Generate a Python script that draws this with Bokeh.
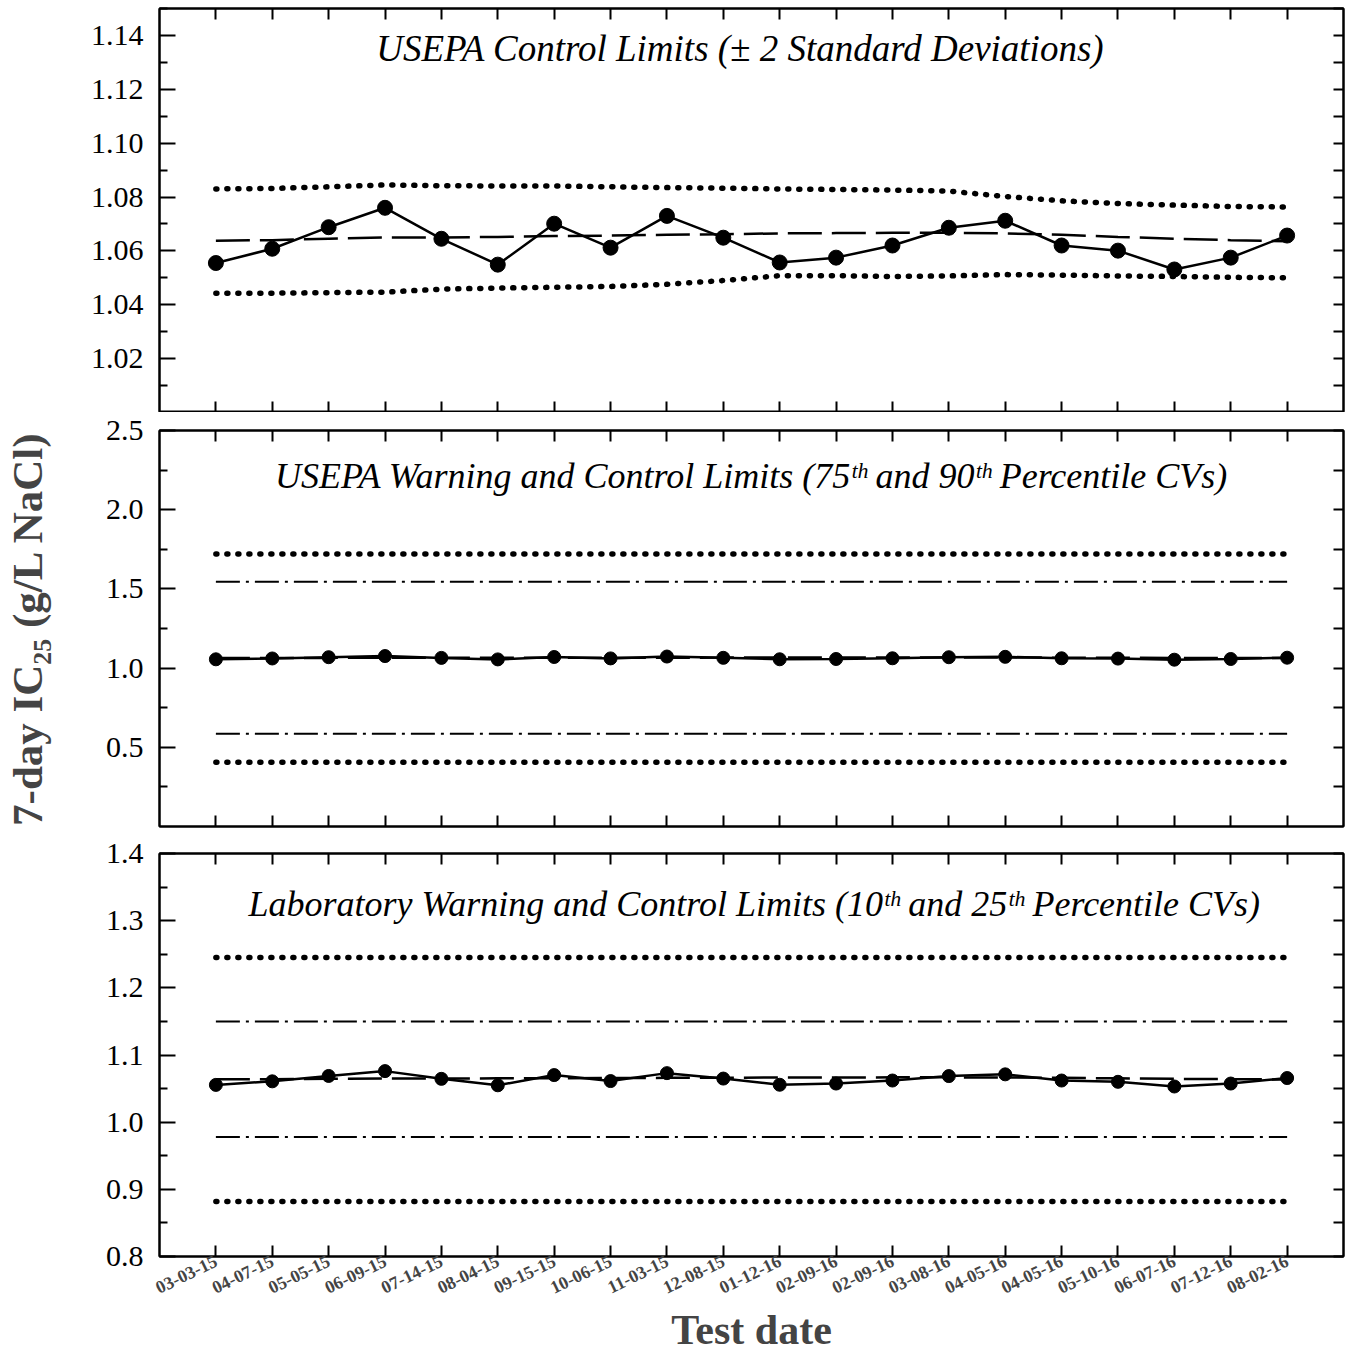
from bokeh.plotting import figure
from bokeh.models import LinearAxis, FixedTicker, Range1d, Label, ColumnDataSource, NumeralTickFormatter
from bokeh.layouts import column
from bokeh.embed import file_html
from bokeh.resources import INLINE

# ---------------- data ----------------
test_dates = ["03-03-15", "04-07-15", "05-05-15", "06-09-15", "07-14-15",
              "08-04-15", "09-15-15", "10-06-15", "11-03-15", "12-08-15",
              "01-12-16", "02-09-16", "02-09-16", "03-08-16", "04-05-16",
              "04-05-16", "05-10-16", "06-07-16", "07-12-16", "08-02-16"]
ic25 = [1.0555, 1.0608, 1.0688, 1.0760, 1.0645, 1.0549, 1.0701, 1.0612, 1.0730, 1.0649,
        1.0557, 1.0575, 1.0620, 1.0686, 1.0712, 1.0620, 1.0601, 1.0531, 1.0575, 1.0657]
running_mean = [1.0638, 1.0640, 1.0645, 1.0650, 1.0650, 1.0652, 1.0655, 1.0657, 1.0660, 1.0662,
                1.0665, 1.0666, 1.0667, 1.0667, 1.0665, 1.0660, 1.0652, 1.0645, 1.0640, 1.0636]
upper_2sd = [1.0830, 1.0832, 1.0838, 1.0845, 1.0842, 1.0841, 1.0841, 1.0838, 1.0835, 1.0833,
             1.0830, 1.0828, 1.0826, 1.0822, 1.0802, 1.0786, 1.0776, 1.0770, 1.0765, 1.0763]
lower_2sd = [1.0443, 1.0443, 1.0445, 1.0447, 1.0458, 1.0462, 1.0465, 1.0468, 1.0476, 1.0490,
             1.0508, 1.0508, 1.0505, 1.0507, 1.0512, 1.0510, 1.0507, 1.0505, 1.0502, 1.0500]

usepa_control_upper = 1.720
usepa_warning_upper = 1.545
usepa_warning_lower = 0.585
usepa_control_lower = 0.405

lab_control_upper = 1.245
lab_warning_upper = 1.150
lab_warning_lower = 0.978
lab_control_lower = 0.882

top_ticks = [1.02, 1.04, 1.06, 1.08, 1.10, 1.12, 1.14]
top_minor = [1.01, 1.03, 1.05, 1.07, 1.09, 1.11, 1.13, 1.15]
mid_ticks = [0.5, 1.0, 1.5, 2.0, 2.5]
mid_minor = [0.25, 0.75, 1.25, 1.75, 2.25]
bot_ticks = [0.8, 0.9, 1.0, 1.1, 1.2, 1.3, 1.4]
bot_minor = [0.85, 0.95, 1.05, 1.15, 1.25, 1.35]

idx = list(range(len(test_dates)))
src = ColumnDataSource(dict(x=idx, y=ic25, m=running_mean, u=upper_2sd, l=lower_2sd))

SERIF = "Liberation Serif"
FRAME_W = 1186
LEFT = 157
RIGHT = 6
W = LEFT + FRAME_W + RIGHT


def tick_only_axis(ticks, length):
    ax = LinearAxis(ticker=FixedTicker(ticks=[], minor_ticks=ticks))
    ax.major_tick_in = 0
    ax.major_tick_out = 0
    ax.minor_tick_in = length
    ax.minor_tick_out = 0
    ax.major_label_standoff = 0
    ax.axis_line_width = 2
    ax.minor_tick_line_width = 2
    return ax


def add_axes(p, yticks, yminor, fmt, show_x=False):
    # left axis with labels
    ly = LinearAxis(ticker=FixedTicker(ticks=yticks, minor_ticks=yminor),
                    formatter=NumeralTickFormatter(format=fmt))
    ly.major_tick_in = 16
    ly.major_tick_out = 0
    ly.minor_tick_in = 8
    ly.minor_tick_out = 0
    ly.major_label_standoff = 16
    ly.major_label_text_font = SERIF
    ly.major_label_text_font_size = "30px"
    ly.major_label_text_color = "black"
    ly.axis_line_width = 2
    ly.major_tick_line_width = 2
    ly.minor_tick_line_width = 2
    p.add_layout(ly, "left")
    # right axis: ticks only
    p.add_layout(tick_only_axis(yticks + yminor, 10), "right")
    # top axis: ticks only
    p.add_layout(tick_only_axis(idx, 11), "above")
    # bottom axis
    if show_x:
        bx = LinearAxis(ticker=FixedTicker(ticks=idx, minor_ticks=[]))
        bx.major_tick_in = 11
        bx.major_tick_out = 0
        bx.minor_tick_in = 0
        bx.minor_tick_out = 0
        bx.axis_line_width = 2
        bx.major_tick_line_width = 2
        bx.major_label_overrides = {i: d for i, d in zip(idx, test_dates)}
        bx.major_label_orientation = 0.45
        bx.major_label_text_font = SERIF
        bx.major_label_text_font_style = "bold"
        bx.major_label_text_font_size = "18px"
        bx.major_label_standoff = 3
        bx.axis_label = "Test date"
        bx.axis_label_text_font = SERIF
        bx.axis_label_text_font_style = "bold"
        bx.axis_label_text_font_size = "42px"
        bx.axis_label_standoff = 4
        p.add_layout(bx, "below")
    else:
        p.add_layout(tick_only_axis(idx, 11), "below")
    return ly


def make_fig(height, yr, top, bottom):
    p = figure(width=W, height=height, x_range=Range1d(-1, 20), y_range=Range1d(*yr),
               output_backend="svg", toolbar_location=None,
               x_axis_type=None, y_axis_type=None,
               min_border_left=LEFT, min_border_right=RIGHT,
               min_border_top=top, min_border_bottom=bottom)
    p.grid.visible = False
    p.outline_line_color = "black"
    p.outline_line_width = 2
    p.background_fill_color = "white"
    p.border_fill_color = "white"
    return p


def dotted(p, x, y):
    p.line(x, y, line_color="black", line_width=5.5, line_dash="1 10", line_cap="round")


def dashdot(p, x, y):
    p.line(x, y, line_color="black", line_width=2, line_dash="24 6 3 6")


def series(p, size):
    p.line("x", "m", source=src, line_color="black", line_width=2.5, line_dash="34 10")
    p.line("x", "y", source=src, line_color="black", line_width=2.5)
    p.scatter("x", "y", source=src, size=size, fill_color="black", line_color="black")


def title(p, x, y, text, size):
    p.add_layout(Label(x=x, y=y, text=text, text_align="center", text_baseline="middle",
                       text_font=SERIF, text_font_style="italic", text_font_size=size,
                       text_color="black"))


ends = [idx[0], idx[-1]]

# ---- panel 1 ----
p1 = make_fig(412, (1.0, 1.15), 8, 0)
add_axes(p1, top_ticks, top_minor, "0.00")
p1.line("x", "u", source=src, line_color="black", line_width=5.5, line_dash="1 10", line_cap="round")
p1.line("x", "l", source=src, line_color="black", line_width=5.5, line_dash="1 10", line_cap="round")
series(p1, 15)
title(p1, 9.3, 1.135, "USEPA Control Limits (\u00b1 2 Standard Deviations)", "37px")

# ---- panel 2 ----
p2 = make_fig(423, (0.0, 2.5), 18, 9)
ly2 = add_axes(p2, mid_ticks, mid_minor, "0.0")
ly2.axis_label = "7-day IC\u2082\u2085 (g/L NaCl)"
ly2.axis_label_text_font = SERIF
ly2.axis_label_text_font_style = "bold"
ly2.axis_label_text_font_size = "43px"
ly2.axis_label_standoff = 52
dotted(p2, ends, [usepa_control_upper] * 2)
dashdot(p2, ends, [usepa_warning_upper] * 2)
dashdot(p2, ends, [usepa_warning_lower] * 2)
dotted(p2, ends, [usepa_control_lower] * 2)
series(p2, 13)
title(p2, 9.5, 2.21, "USEPA Warning and Control Limits (75\u1d57\u02b0 and 90\u1d57\u02b0 Percentile CVs)", "36px")

# ---- panel 3 ----
p3 = make_fig(521, (0.8, 1.4), 18, 100)
add_axes(p3, bot_ticks, bot_minor, "0.0", show_x=True)
dotted(p3, ends, [lab_control_upper] * 2)
dashdot(p3, ends, [lab_warning_upper] * 2)
dashdot(p3, ends, [lab_warning_lower] * 2)
dotted(p3, ends, [lab_control_lower] * 2)
series(p3, 13)
title(p3, 9.55, 1.325, "Laboratory Warning and Control Limits (10\u1d57\u02b0 and 25\u1d57\u02b0 Percentile CVs)", "36px")

layout = column(p1, p2, p3, spacing=0)
open("out.html", "w").write(file_html(layout, INLINE))
